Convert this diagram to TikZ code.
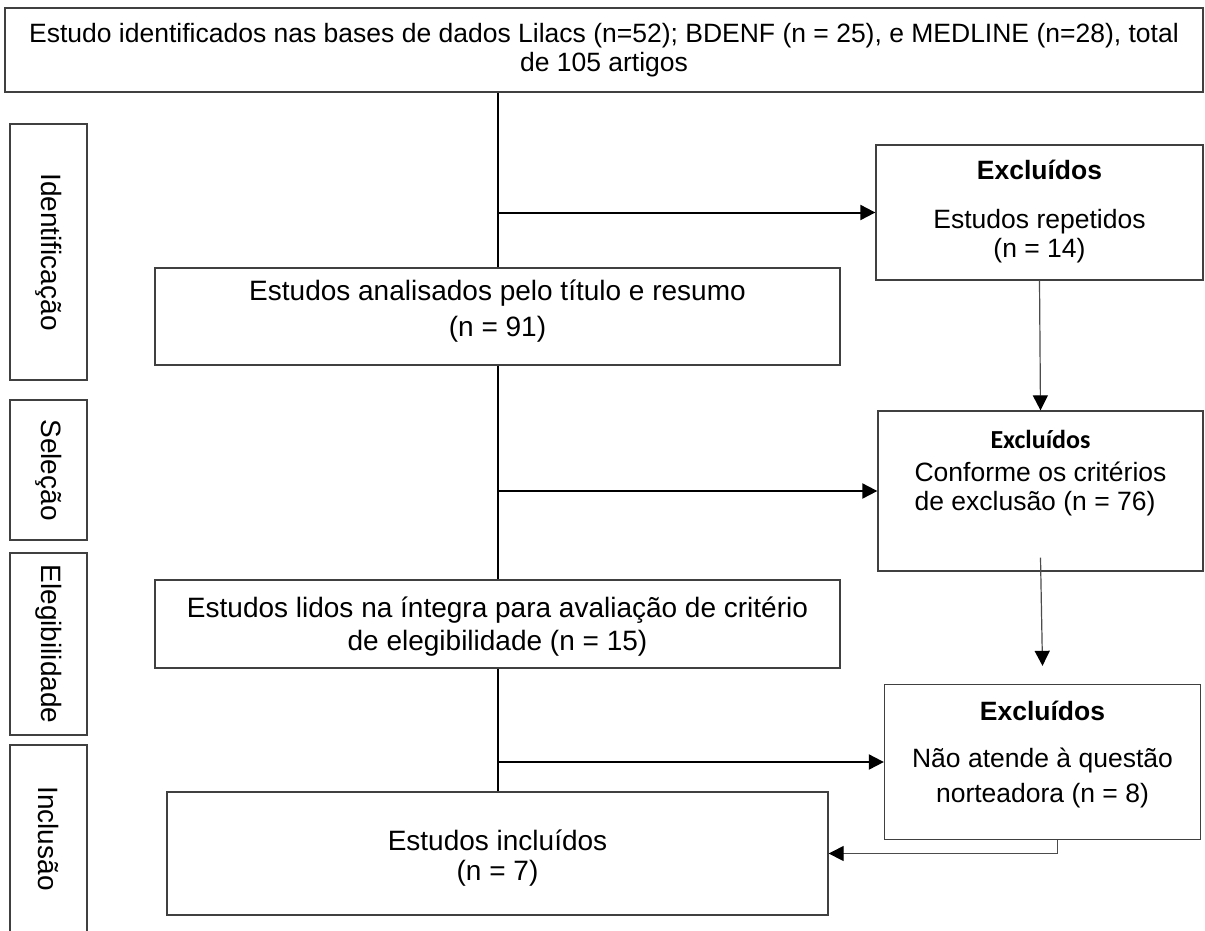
\documentclass[tikz,border=0pt]{standalone}
\usepackage{fontspec}
\setmainfont{Liberation Sans}
\newfontfamily\calibri{Carlito}
\usetikzlibrary{arrows.meta,positioning}

\begin{document}
\begin{tikzpicture}[x=1pt,y=-1pt,>={Triangle[length=15pt,width=15pt,color=black]}]
    \tikzstyle{etapa}=[rectangle,draw=black!75,line width=1.3pt,align=center,inner sep=0pt,font=\fontsize{26.5}{29}\selectfont]
    \tikzstyle{central}=[etapa,font=\fontsize{28}{33}\selectfont]
    \tikzstyle{fase}=[etapa,rotate=-90,minimum height=77pt,font=\fontsize{28}{33}\selectfont]
    \tikzstyle{fluxo}=[line width=2pt]
    \tikzstyle{fino}=[line width=1.2pt,draw=black!70]

    \useasboundingbox[fill=white] (0,0) rectangle (1205,930);

    % caixas do fluxo principal
    \node[etapa,minimum width=1198pt,minimum height=84pt](topo) at (604,50){Estudo identificados nas bases de dados Lilacs (n=52); BDENF (n = 25), e MEDLINE (n=28), total\\de 105 artigos};
    \node[central,minimum width=685pt,minimum height=97pt](analisados) at (497.5,316.5){\begin{tabular}{@{}c@{}}Estudos analisados pelo título e resumo\\[3pt](n = 91)\\[10pt]\end{tabular}};
    \node[central,minimum width=685pt,minimum height=88pt](elegiveis) at (497.5,624){\begin{tabular}{@{}c@{}}\rule{0pt}{30pt}Estudos lidos na íntegra para avaliação de critério\\de elegibilidade (n = 15)\end{tabular}};
    \node[central,minimum width=661pt,minimum height=123pt](incluidos) at (497.5,853.5){\begin{tabular}{@{}c@{}}\rule{0pt}{34pt}Estudos incluídos\\[-3pt](n = 7)\end{tabular}};

    % caixas dos excluidos
    \node[etapa,minimum width=327pt,minimum height=135pt](excl1) at (1039.5,212.5){\begin{tabular}{@{}c@{}}\textbf{Excluídos}\\[20pt]Estudos repetidos\\(n = 14)\end{tabular}};
    \node[etapa,minimum width=325pt,minimum height=160pt](excl2) at (1040.5,491){\begin{tabular}{@{}l@{}}\multicolumn{1}{@{}c@{}}{\calibri\bfseries\fontsize{26}{28}\selectfont Excluídos}\\[4pt]Conforme os critérios\\de exclusão (n = 76)\\[34pt]\end{tabular}};
    \node[etapa,minimum width=316pt,minimum height=155pt](excl3) at (1042.5,762){\begin{tabular}{@{}c@{}}\textbf{Excluídos}\\[18pt]Não atende à questão\\[6pt]norteadora (n = 8)\\[12pt]\end{tabular}};

    % fases
    \node[fase,minimum width=256pt](ident) at (48.5,252){Identificação};
    \node[fase,minimum width=140pt](selecao) at (48.5,470){Seleção};
    \node[fase,minimum width=182pt](eleg) at (48.5,644){Elegibilidade};
    \node[fase,minimum width=187pt](inclus) at (48.5,838.5){Inclusão};

    \draw[fluxo] (analisados.north |- topo.south) -- (analisados.north);
    \draw[fluxo] (analisados.south) -- (elegiveis.north);
    \draw[fluxo] (elegiveis.south) -- (incluidos.north);
    \draw[fluxo,->] (analisados.north |- excl1.west) -- (excl1.west);
    \draw[fluxo,->] (analisados.south |- excl2.west) -- (excl2.west);
    \draw[fluxo,->] (elegiveis.south |- excl3.west) -- (excl3.west);
    \draw[fino,->] (excl1.south) -- (excl2.north);
    \draw[fino,->] ([yshift=14pt]excl2.south) -- ([yshift=18pt]excl3.north);
    \draw[fino,->] ([xshift=15pt]excl3.south) |- (incluidos.east);
  \end{tikzpicture}
\end{document}
